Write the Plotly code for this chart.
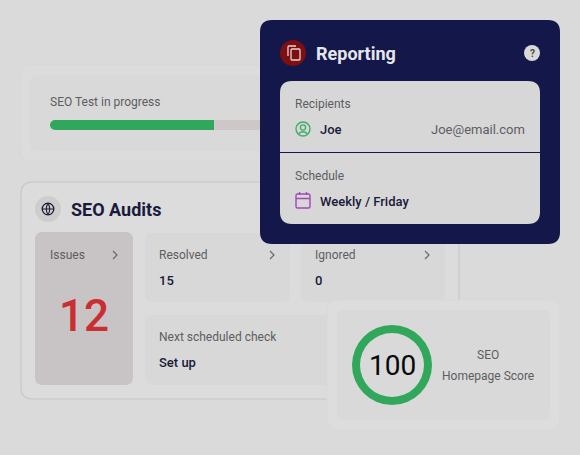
import plotly.graph_objects as go

# ---------- data ----------
progress_label = "SEO Test in progress"
progress_value = [41]
progress_full = [100]
score_value = [100]
score_rest = [0]
score_labels = ["SEO", "Homepage Score"]
audit_title = "SEO Audits"
issues_label, issues_value = "Issues", "12"
resolved_label, resolved_value = "Resolved", "15"
ignored_label, ignored_value = "Ignored", "0"
next_label, next_value = "Next scheduled check", "Set up"
panel_title = "Reporting"
recipients_label, recipient_name, recipient_mail = "Recipients", "Joe", "Joe@email.com"
schedule_label, schedule_value = "Schedule", "Weekly / Friday"

# ---------- palette ----------
BG = "#dadada"
CARD = "#dcdcdc"
CARD_IN = "#d8d8d8"
NAVY = "#13174a"
PANEL_IN = "#d7d7d7"
INK = "#1a1b3c"
GREY = "#5d5d62"
GREEN = "#30a75a"
RED = "#c92f30"
FONT = "Roboto"
FONT_M = "Roboto Medium, Roboto"


def rr(x0, y0, x1, y1, r):
    return (f"M{x0+r},{y0} L{x1-r},{y0} Q{x1},{y0} {x1},{y0+r} L{x1},{y1-r} Q{x1},{y1} {x1-r},{y1} "
            f"L{x0+r},{y1} Q{x0},{y1} {x0},{y1-r} L{x0},{y0+r} Q{x0},{y0} {x0+r},{y0} Z")


def box(x0, y0, x1, y1, r, fill, line=None, width=1, layer="below"):
    return dict(type="path", path=rr(x0, y0, x1, y1, r), fillcolor=fill, layer=layer,
                line=dict(color=line or fill, width=width if line else 0), xref="x", yref="y")


def circle(cx, cy, r, fill="rgba(0,0,0,0)", line=None, width=1, layer="below"):
    return dict(type="circle", x0=cx-r, x1=cx+r, y0=cy-r, y1=cy+r, fillcolor=fill, layer=layer,
                line=dict(color=line or fill, width=width if line else 0), xref="x", yref="y")


def stroke(path, color, width=1.5, layer="below"):
    return dict(type="path", path=path, line=dict(color=color, width=width), layer=layer,
                fillcolor="rgba(0,0,0,0)", xref="x", yref="y")


def chevron(x, y, color="#6a6a6e"):
    return stroke(f"M{x-2},{y-4} L{x+2},{y} L{x-2},{y+4}", color, 1.2)


shapes = [
    box(20, 65, 470, 161, 12, CARD, "#d8d8d8"),
    box(30, 75, 460, 151, 8, "#d9d9d9"),
    box(21, 182, 459, 399, 12, "#dcdcdc", "#cbcbcb", 1.5),
    circle(48, 209, 13, "#cfcdcb"),
    circle(48, 209, 5.8, line=INK, width=1.3),
    stroke("M42.5,209 L53.5,209 M48,203.2 Q44.5,209 48,214.8 M48,203.2 Q51.5,209 48,214.8", INK, 1.1),
    box(35, 232, 133, 385, 8, "#c8c3c5"),
    box(145, 233, 290, 302, 8, CARD_IN),
    box(301, 233, 445, 302, 8, CARD_IN),
    box(145, 315, 445, 385, 8, CARD_IN),
    chevron(115, 255),
    chevron(272, 255),
    chevron(427, 255),
    box(327, 300, 560, 430, 12, "#dddddd", "#d9d9d9"),
    box(337, 310, 550, 420, 6, "#d9d9d9"),
    box(260, 20, 560, 244, 12, NAVY, layer="above"),
    box(280, 81, 540, 224, 12, PANEL_IN, layer="above"),
    dict(type="line", x0=280, x1=540, y0=152.5, y1=152.5, xref="x", yref="y",
         line=dict(color=NAVY, width=1.2), layer="above"),
    circle(293, 53, 13, "#7d0f10", layer="above"),
    box(291, 49, 300, 60, 1, "rgba(0,0,0,0)", "#e3d6d6", 1.3, layer="above"),
    stroke("M288,56 L288,47 Q288,46 289,46 L296,46", "#e3d6d6", 1.3, layer="above"),
    circle(532, 53, 8, "#d9d9d9", layer="above"),
    circle(303, 129, 7, line="#3fae68", width=1.4, layer="above"),
    circle(303, 127.5, 2.6, line="#3fae68", width=1.3, layer="above"),
    stroke("M298.5,134 Q303,129.5 307.5,134", "#3fae68", 1.3, layer="above"),
    box(296, 194, 310, 208, 1.5, "rgba(0,0,0,0)", "#a348b5", 1.4, layer="above"),
    stroke("M296,198.5 L310,198.5 M299.5,192 L299.5,195 M306.5,192 L306.5,195", "#a348b5", 1.4, layer="above"),
]


def txt(x, y, s, size=12, color=GREY, family=FONT, weight=400, anchor="left"):
    # annotations carry 2px of inner padding, taken off here
    dx = {"left": -2, "right": 2, "center": 0}[anchor]
    return dict(x=x + dx, y=y, text=s, showarrow=False, xref="x", yref="y", xanchor=anchor, yanchor="middle",
                font=dict(family=family, size=size, color=color, weight=weight))


annotations = [
    txt(50, 102, progress_label),
    txt(71, 209, audit_title, 18, INK, FONT, 700),
    txt(50, 255, issues_label),
    txt(84, 316, issues_value, 44, RED, FONT_M, 400, "center"),
    txt(159, 255, resolved_label),
    txt(159, 280, resolved_value, 13, INK, FONT_M),
    txt(315, 255, ignored_label),
    txt(315, 280, ignored_value, 13, INK, FONT_M),
    txt(159, 337, next_label),
    txt(159, 362, next_value, 13, INK, FONT_M),
    txt(392, 365, str(score_value[0]), 28, "#08080c", FONT, 400, "center"),
    txt(488, 355, score_labels[0], 12, GREY, FONT, 400, "center"),
    txt(488, 376, score_labels[1], 12, GREY, FONT, 400, "center"),
    txt(316, 53.5, panel_title, 18, "#e6e6ea", FONT, 700),
    txt(532, 53, "?", 10, "#4a4a4e", FONT, 700, "center"),
    txt(295, 104, recipients_label),
    txt(320, 129, recipient_name, 13, INK, FONT_M),
    txt(525, 129, recipient_mail, 13, GREY, FONT, 400, "right"),
    txt(295, 176, schedule_label),
    txt(320, 201, schedule_value, 13, INK, FONT_M),
]

fig = go.Figure()
TRACK_CAP = 1.25  # half the bar height, in axis units: where the round end begins
fig.add_trace(go.Bar(y=[0], x=[progress_full[0] - TRACK_CAP], base=[TRACK_CAP], orientation="h",
                     xaxis="x2", yaxis="y2", marker=dict(color="#cdc8c7", line=dict(width=0)),
                     hoverinfo="skip", width=1))
fig.add_trace(go.Bar(y=[0], x=[progress_value[0] - TRACK_CAP], base=[TRACK_CAP], orientation="h",
                     xaxis="x2", yaxis="y2", marker=dict(color=GREEN, line=dict(width=0)),
                     hoverinfo="skip", width=1))
fig.add_trace(go.Scatter(x=[TRACK_CAP], y=[0], mode="markers", xaxis="x2", yaxis="y2", cliponaxis=False,
                         marker=dict(color=GREEN, size=10, line=dict(width=0)), hoverinfo="skip"))
fig.add_trace(go.Pie(values=score_value + score_rest, hole=0.8, sort=False, textinfo="none", hoverinfo="skip",
                     marker=dict(colors=[GREEN, "#cccccc"], line=dict(width=0)), showlegend=False,
                     domain=dict(x=[352/580, 432/580], y=[1-405/455, 1-325/455])))

fig.update_layout(
    width=580, height=455, margin=dict(l=0, r=0, t=0, b=0),
    paper_bgcolor=BG, plot_bgcolor=BG, showlegend=False, barmode="overlay",
    xaxis=dict(range=[0, 580], visible=False, fixedrange=True),
    yaxis=dict(range=[455, 0], visible=False, fixedrange=True),
    xaxis2=dict(domain=[50/580, 450/580], range=[0, 100], visible=False, anchor="y2", fixedrange=True),
    yaxis2=dict(domain=[1-130/455, 1-120/455], range=[-0.5, 0.5], visible=False, anchor="x2", fixedrange=True),
    shapes=shapes, annotations=annotations,
)
fig.write_html("out.html", config=dict(displayModeBar=False),
               post_script="document.body.style.margin='0';")
